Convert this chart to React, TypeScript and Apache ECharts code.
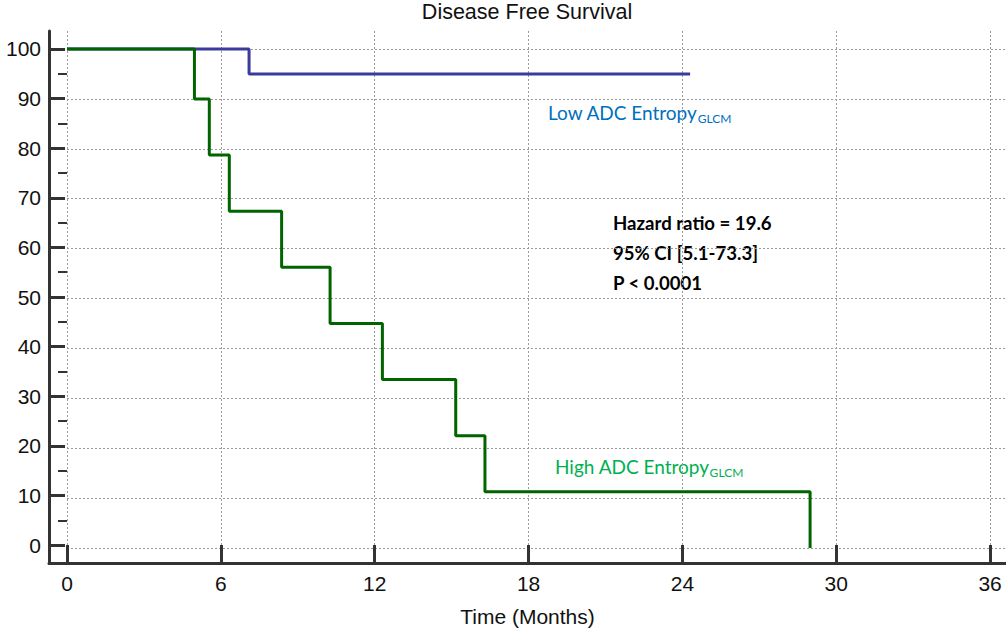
import React, { useEffect, useRef } from "react";
import * as echarts from "echarts";

const titleText = "Disease Free Survival";
const xAxisName = "Time (Months)";
const xTicks = [0, 6, 12, 18, 24, 30, 36];
const yTicks = [0, 10, 20, 30, 40, 50, 60, 70, 80, 90, 100];
const yMinorTicks = [5, 15, 25, 35, 45, 55, 65, 75, 85, 95];

const lowTime = [0, 7.1, 24.3];
const lowSurv = [100, 95, 95];
const highTime = [0, 4.97, 5.55, 6.33, 8.37, 10.26, 12.3, 15.16, 16.3, 28.98];
const highSurv = [100, 90, 78.75, 67.5, 56.25, 45, 33.75, 22.5, 11.25, 0];

const lowLabel = "Low ADC Entropy";
const highLabel = "High ADC Entropy";
const subLabel = "GLCM";
const statLines = ["Hazard ratio = 19.6", "95% CI [5.1-73.3]", "P < 0.0001"];

const AX = "'Liberation Sans', Arial, sans-serif";
const CAL = "Lato, 'Open Sans', sans-serif";

const X_MIN = -0.702;
const X_MAX = 36.62;
const Y_MIN = -3.607;
const Y_MAX = 103.607;

export default function App() {
  const ref = useRef<HTMLDivElement>(null);
  useEffect(() => {
    if (!ref.current) return;
    const chart = echarts.init(ref.current, undefined, { renderer: "svg" });
    const axisColor = "#333";
    const gridLine = { show: true, showMaxLine: false, lineStyle: { type: [2, 2], color: "#9a9a9a", width: 1 } };
    const hidden = {
      axisLine: { show: false },
      axisTick: { show: false },
      axisLabel: { show: false },
      splitLine: { show: false },
    };
    chart.setOption({
      animation: false,
      grid: [
        { left: 67, top: 31, right: 0, bottom: 84 },
        { left: 49, top: 31, right: 0, bottom: 66 },
      ],
      xAxis: [
        {
          type: "value",
          gridIndex: 0,
          min: 0,
          max: X_MAX,
          interval: 6,
          ...hidden,
          splitLine: gridLine,
        },
        {
          type: "value",
          gridIndex: 1,
          min: X_MIN,
          max: X_MAX,
          axisLine: { show: true, onZero: false, lineStyle: { width: 3, color: axisColor } },
          axisTick: { show: true, inside: true, length: 18, customValues: xTicks, lineStyle: { width: 3, color: axisColor } },
          axisLabel: { show: true, margin: 10, fontSize: 21, fontFamily: AX, color: "#111", customValues: xTicks },
          splitLine: { show: false },
          name: xAxisName,
          nameLocation: "middle",
          nameGap: 43,
          nameTextStyle: { fontSize: 21, fontFamily: AX, color: "#111" },
        },
      ],
      yAxis: [
        {
          type: "value",
          gridIndex: 0,
          min: 0,
          max: Y_MAX,
          interval: 10,
          ...hidden,
          splitLine: gridLine,
        },
        {
          type: "value",
          gridIndex: 1,
          min: Y_MIN,
          max: Y_MAX,
          axisLine: { show: true, onZero: false, lineStyle: { width: 3, color: axisColor } },
          axisTick: { show: true, inside: true, length: 16, customValues: yTicks, lineStyle: { width: 3, color: axisColor } },
          axisLabel: { show: true, margin: 8, fontSize: 21, fontFamily: AX, color: "#111", customValues: yTicks },
          splitLine: { show: false },
        },
        {
          type: "value",
          gridIndex: 1,
          min: Y_MIN,
          max: Y_MAX,
          axisLine: { show: false },
          axisTick: { show: true, inside: true, length: 9, customValues: yMinorTicks, lineStyle: { width: 2, color: axisColor } },
          axisLabel: { show: false },
          splitLine: { show: false },
        },
      ],
      series: [
        {
          type: "line",
          xAxisIndex: 0,
          yAxisIndex: 0,
          step: "end",
          showSymbol: false,
          symbol: "none",
          lineStyle: { width: 3, color: "#3b3b9c" },
          data: lowTime.map((t, i) => [t, lowSurv[i]]),
          z: 3,
        },
        {
          type: "line",
          xAxisIndex: 0,
          yAxisIndex: 0,
          step: "end",
          showSymbol: false,
          symbol: "none",
          lineStyle: { width: 3, color: "#006400" },
          data: highTime.map((t, i) => [t, highSurv[i]]),
          z: 4,
        },
      ],
      graphic: [
        {
          type: "text",
          x: 527,
          y: 12,
          style: { text: titleText, font: `21.5px ${AX}`, fill: "#111", textAlign: "center", textVerticalAlign: "middle" },
        },
        {
          type: "text",
          x: 548,
          y: 100.6,
          style: {
            text: `{m|${lowLabel}}{s|${subLabel}}`,
            fill: "#0070C0",
            textAlign: "left",
            textVerticalAlign: "top",
            rich: {
              m: { fontSize: 19, fontFamily: CAL, lineHeight: 24, fill: "#0070C0" },
              s: { fontSize: 12, fontFamily: CAL, lineHeight: 12, verticalAlign: "bottom", fill: "#0070C0" },
            },
          },
        },
        {
          type: "text",
          x: 555,
          y: 454,
          style: {
            text: `{m|${highLabel}}{s|${subLabel}}`,
            fill: "#00B050",
            textAlign: "left",
            textVerticalAlign: "top",
            rich: {
              m: { fontSize: 19, fontFamily: CAL, lineHeight: 24, fill: "#00B050" },
              s: { fontSize: 12, fontFamily: CAL, lineHeight: 12, verticalAlign: "bottom", fill: "#00B050" },
            },
          },
        },
        ...statLines.map((t, i) => ({
          type: "text",
          x: 613,
          y: 222.7 + i * 30,
          style: { text: t, font: `bold 18.6px ${CAL}`, fill: "#000", textAlign: "left", textVerticalAlign: "middle" },
        })),
      ],
    });
    return () => chart.dispose();
  }, []);
  return <div ref={ref} style={{ position: "fixed", left: 0, top: 0, width: 1006, height: 632, background: "#fff" }} />;
}
